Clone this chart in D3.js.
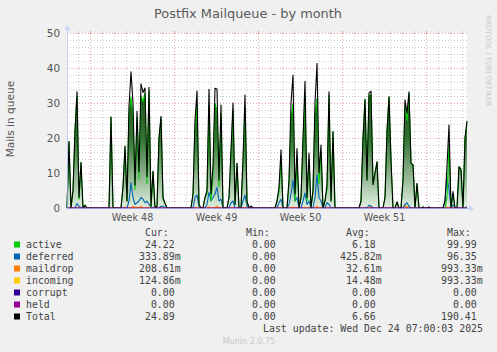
<!DOCTYPE html>
<html>
<head>
<meta charset="utf-8">
<script src="https://cdn.jsdelivr.net/npm/d3@7"></script>
<style>
  body { margin: 0; background: #f0f0f0; }
  svg { display: block; font-family: "DejaVu Sans", sans-serif; }
  .legend text { font-family: "DejaVu Sans Mono", monospace; font-size: 9.9px; fill: #444; white-space: pre; }
</style>
</head>
<body>
<div id="chart"></div>
<script>
/* Postfix Mailqueue - by month (munin style) */

const width = 497,
    height = 352,
    margin = ({ top: 33, right: 30, bottom: 144, left: 67 });

// one sample every 4 hours, first sample at 2025-11-22 02:00 UTC
const startTime = Date.UTC(2025, 10, 22, 2),
    stepHours = 4;

// one value per sample
const active = [
  0, 19, 0, 5, 22, 31.9, 2.5, 13, 0, 0.8,
  0, 0, 0, 0, 0, 0, 0, 0, 0, 0,
  0, 0, 26, 0, 0, 0, 0, 0, 6, 17.4,
  2, 27, 31.7, 26.5, 5.3, 25.8, 8.4, 32, 30.5, 32.8,
  7, 33.5, 0, 10.5, 0, 0.5, 20, 25.7, 2.5, 1.3,
  0, 0, 0, 0, 0, 0, 0, 0, 0, 0,
  0, 0, 0, 4, 22, 29.7, 0.5, 0, 0, 3,
  4, 29.1, 2, 9, 29.9, 27.6, 6, 26.9, 0, 0,
  0, 3, 15.1, 28, 1, 12.8, 0, 0, 12, 28.6,
  1.5, 0, 0.5, 0, 0, 0, 0, 0, 0, 0,
  0, 0, 0, 0, 0, 2, 4.5, 14.1, 0, 0,
  0, 7, 26, 29.7, 2, 14, 0, 3, 18, 31.6,
  2, 13.7, 0, 5, 27, 31.3, 7, 16, 0, 2,
  5.1, 32.2, 2, 21.8, 0, 0, 0, 0, 0, 0,
  0, 0, 0, 0, 0, 0, 0, 2, 20, 31,
  8, 32, 32.4, 6.7, 10, 13.2, 0, 0, 0, 3,
  22, 31.8, 13.7, 0, 0, 1.7, 0, 0, 8, 28.9,
  25, 32.7, 12.8, 12.4, 0, 7, 0, 0, 0.3, 0,
  0, 0.3, 0, 0, 0, 0, 0, 0, 0, 0,
  3.1, 18.2, 0, 3.7, 0, 0, 11.8, 11, 0, 20,
  24.22
];

const deferred = [
  0, 0, 0, 0, 0, 1.3, 0.5, 0, 0, 0,
  0, 0, 0, 0, 0, 0, 0, 0, 0, 0,
  0, 0, 0, 0, 0, 0, 0, 0, 0, 0,
  0, 2, 7.2, 3, 1, 1.5, 2, 3, 2.5, 1.5,
  2, 1, 0.5, 0, 0, 0, 0, 0.5, 0.5, 0,
  0, 0, 0, 0, 0, 0, 0, 0, 0, 0,
  0, 0, 0, 0, 3, 3.7, 0.5, 0, 0, 0,
  1, 4.5, 2, 3, 4, 5.9, 2, 2.5, 0, 0,
  0, 0, 1.5, 2, 0, 0, 0, 0, 2, 3.7,
  0.5, 0, 0, 0, 0, 0, 0, 0, 0, 0,
  0, 0, 0, 0, 0, 0, 1.5, 2.5, 0, 0,
  0, 1, 4, 8, 2, 3, 0, 0, 2, 4.3,
  1, 2, 0, 0, 3, 9.5, 3, 2, 0, 0,
  1.5, 1, 0, 0, 0, 0, 0, 0, 0, 0,
  0, 0, 0, 0, 0, 0, 0, 0, 0, 0,
  0, 0.8, 0.5, 0, 0, 0, 0, 0, 0, 0,
  0, 0, 0, 0, 0, 0, 0, 0, 0, 1,
  1.5, 0.5, 0, 0, 0, 0, 0, 0, 0, 0,
  0, 0, 0, 0, 0, 0, 0, 0, 0, 2,
  8.6, 5.5, 0, 1, 0, 0, 0, 0, 0, 0,
  0.33
];

// [sample index, value], zero elsewhere
const maildropPeaks = [[29, 0.3], [33, 0.5], [35, 0.3], [37, 0.5], [71, 0.3], [75, 0.5],
  [113, 0.3], [125, 0.5], [152, 0.5], [169, 1], [190, 0.3], [200, 0.21]];
const incomingPeaks = [[34, 0.3], [74, 0.3], [119, 0.3], [170, 0.5], [200, 0.12]];

const seriesNames = ["active", "deferred", "maildrop", "incoming", "corrupt", "held", "Total"];
const seriesColors = ["#00cc00", "#0066b3", "#ff8000", "#ffcc00", "#330099", "#990099", "#000000"];
const curText = [" 24.22", "333.89m", "208.61m", "124.86m", "  0.00", "  0.00", " 24.89"];
const minText = ["  0.00", "  0.00", "  0.00", "  0.00", "  0.00", "  0.00", "  0.00"];
const avgText = ["  6.18", "425.82m", " 32.61m", " 14.48m", "  0.00", "  0.00", "  6.66"];
const maxText = [" 99.99", " 96.35", "993.33m", "993.33m", "  0.00", "  0.00", "190.41"];

const yTicks = [0, 10, 20, 30, 40, 50];

// build the table
const sparse = (pts, i) => { const p = pts.find(d => d[0] === i); return p ? p[1] : 0; };
const data = active.map((a, i) => {
  const r = {
    t: new Date(startTime + i * stepHours * 3600e3),
    active: a,
    deferred: deferred[i],
    maildrop: sparse(maildropPeaks, i),
    incoming: sparse(incomingPeaks, i),
    corrupt: 0,
    held: 0
  };
  r.Total = r.active + r.deferred + r.maildrop + r.incoming + r.corrupt + r.held;
  return r;
});

const svg = d3.select("#chart")
  .append("svg")
  .attr("width", width)
  .attr("height", height)
  .attr("viewBox", [0, 0, width, height]);

svg.append("rect").attr("width", width).attr("height", height).attr("fill", "#f0f0f0");

const x0 = margin.left, x1 = width - margin.right,
    yTop = margin.top, yBot = height - margin.bottom;

let x = d3.scaleUtc()
  .domain([data[0].t, data[data.length - 1].t])
  .range([x0, x1]);

let y = d3.scaleLinear()
  .domain([0, 50])
  .range([yBot, yTop]);

// canvas
svg.append("rect")
  .attr("x", x0).attr("y", yTop)
  .attr("width", x1 - x0).attr("height", yBot - yTop)
  .attr("fill", "#ffffff");

// grid
const grid = svg.append("g").attr("shape-rendering", "crispEdges");
const minorCol = "#cccccc", majorCol = "#eba0a0";

const days = d3.utcDay.range(x.domain()[0], x.domain()[1]).filter(d => d.getUTCDay() !== 1);
const mondays = d3.utcMonday.range(x.domain()[0], x.domain()[1]);
const minorY = d3.range(2, 50, 2).filter(v => v % 10 !== 0);
const majorY = yTicks.filter(v => v > 0);

grid.selectAll(".vmin").data(days).join("line")
  .attr("x1", d => Math.round(x(d)) + 0.5).attr("x2", d => Math.round(x(d)) + 0.5)
  .attr("y1", yTop).attr("y2", yBot)
  .attr("stroke", minorCol).attr("stroke-dasharray", "1,2");

grid.selectAll(".hmin").data(minorY).join("line")
  .attr("x1", x0).attr("x2", x1)
  .attr("y1", d => Math.round(y(d)) + 0.5).attr("y2", d => Math.round(y(d)) + 0.5)
  .attr("stroke", minorCol).attr("stroke-dasharray", "1,2");

grid.selectAll(".vmaj").data(mondays).join("line")
  .attr("x1", d => Math.round(x(d)) + 0.5).attr("x2", d => Math.round(x(d)) + 0.5)
  .attr("y1", yTop).attr("y2", yBot)
  .attr("stroke", majorCol).attr("stroke-dasharray", "1,2");

grid.selectAll(".hmaj").data(majorY).join("line")
  .attr("x1", x0).attr("x2", x1)
  .attr("y1", d => Math.round(y(d)) + 0.5).attr("y2", d => Math.round(y(d)) + 0.5)
  .attr("stroke", majorCol).attr("stroke-dasharray", "1,2");

// little solid ticks at the grid ends
grid.selectAll(".vt").data(days.concat(mondays)).join("line")
  .attr("x1", d => Math.round(x(d)) + 0.5).attr("x2", d => Math.round(x(d)) + 0.5)
  .attr("y1", yTop - 2).attr("y2", yTop + 1)
  .attr("stroke", d => d.getUTCDay() === 1 ? majorCol : minorCol);

// data
const defs = svg.append("defs");
const grad = defs.append("linearGradient")
  .attr("id", "activeFill")
  .attr("gradientUnits", "userSpaceOnUse")
  .attr("x1", 0).attr("x2", 0)
  .attr("y1", y(40)).attr("y2", y(0));
grad.append("stop").attr("offset", 0).attr("stop-color", "#173f17");
grad.append("stop").attr("offset", 0.5).attr("stop-color", "#356f35");
grad.append("stop").attr("offset", 1).attr("stop-color", "#e0efe0");

svg.append("path")
  .datum(data)
  .attr("fill", "url(#activeFill)")
  .attr("d", d3.area().x(d => x(d.t)).y0(y(0)).y1(d => y(d.active)));

const keys = ["held", "corrupt", "incoming", "maildrop", "deferred", "active", "Total"];
keys.forEach(k => {
  svg.append("path")
    .datum(data)
    .attr("fill", "none")
    .attr("stroke", seriesColors[seriesNames.indexOf(k)])
    .attr("stroke-width", 1.1)
    .attr("stroke-linejoin", "round")
    .attr("d", d3.line().x(d => x(d.t)).y(d => y(d[k])));
});
// held drawn again on top at zero, like the reference
svg.append("path")
  .datum(data)
  .attr("fill", "none")
  .attr("stroke", "#990099")
  .attr("stroke-width", 1)
  .attr("d", d3.line().x(d => x(d.t)).y(d => y(d.held)));

// axes lines with arrows
const axisCol = "rgba(175,190,255,0.75)";
svg.append("line")
  .attr("x1", x0 + 0.5).attr("x2", x0 + 0.5)
  .attr("y1", yBot + 1).attr("y2", yTop - 6)
  .attr("stroke", axisCol);
svg.append("path")
  .attr("d", `M${x0 - 2.5},${yTop - 3} L${x0 + 0.5},${yTop - 8} L${x0 + 3.5},${yTop - 3} Z`)
  .attr("fill", "#c8d2fa");
svg.append("line")
  .attr("x1", x0 - 1).attr("x2", x1 + 4)
  .attr("y1", yBot + 0.5).attr("y2", yBot + 0.5)
  .attr("stroke", axisCol);
svg.append("path")
  .attr("d", `M${x1 + 2},${yBot - 2.5} L${x1 + 7},${yBot + 0.5} L${x1 + 2},${yBot + 3.5} Z`)
  .attr("fill", "#c8d2fa");

// tick labels
svg.append("g")
  .attr("transform", `translate(${x0},0)`)
  .call(d3.axisLeft(y).tickValues(yTicks).tickSize(0).tickPadding(7))
  .call(g => g.select(".domain").remove())
  .call(g => g.selectAll("text").attr("font-size", 10.4).attr("font-family", "DejaVu Sans").attr("fill", "#555"));

const weekMid = mondays.map(d => d3.utcHour.offset(d, -84)).concat(
  [d3.utcHour.offset(mondays[mondays.length - 1], 84)]).filter(d => x(d) > x0 && x(d) < x1);

svg.append("g")
  .attr("transform", `translate(0,${yBot})`)
  .call(d3.axisBottom(x).tickValues(weekMid).tickFormat(d3.utcFormat("Week %V")).tickSize(0).tickPadding(6))
  .call(g => g.select(".domain").remove())
  .call(g => g.selectAll("text").attr("font-size", 9.6).attr("font-family", "DejaVu Sans").attr("fill", "#555"));

// titles
svg.append("text")
  .attr("x", 248).attr("y", 17.5)
  .attr("text-anchor", "middle")
  .attr("font-size", 12.9)
  .attr("fill", "#5a5a5a")
  .text("Postfix Mailqueue - by month");

svg.append("text")
  .attr("transform", "translate(14,119) rotate(-90)")
  .attr("text-anchor", "middle")
  .attr("font-size", 10.6)
  .attr("fill", "#555")
  .text("Mails in queue");

svg.append("text")
  .attr("transform", "translate(485.5,15) rotate(90)")
  .attr("font-size", 7.1)
  .attr("fill", "#c8c8c8")
  .text("RRDTOOL / TOBI OETIKER");

svg.append("text")
  .attr("x", 249).attr("y", 343.5)
  .attr("text-anchor", "middle")
  .attr("font-size", 8)
  .attr("fill", "#c8c8c8")
  .text("Munin 2.0.75");

// legend
const legend = svg.append("g").attr("class", "legend");
const colX = [139, 240, 340, 441];
const rowY = i => 248 + i * 12;

legend.selectAll(".hdr").data([" Cur:", " Min:", " Avg:", " Max:"]).join("text")
  .attr("x", (d, i) => colX[i]).attr("y", 236)
  .text(d => d);

seriesNames.forEach((name, i) => {
  legend.append("rect")
    .attr("x", 14).attr("y", rowY(i) - 6.5)
    .attr("width", 6).attr("height", 6)
    .attr("fill", seriesColors[i]);
  legend.append("text").attr("x", 26).attr("y", rowY(i)).text(name);
  [curText, minText, avgText, maxText].forEach((col, j) => {
    legend.append("text").attr("x", colX[j]).attr("y", rowY(i)).text(col[i]);
  });
});

legend.append("text")
  .attr("x", 483).attr("y", 332)
  .attr("text-anchor", "end")
  .text("Last update: Wed Dec 24 07:00:03 2025");
</script>
</body>
</html>
